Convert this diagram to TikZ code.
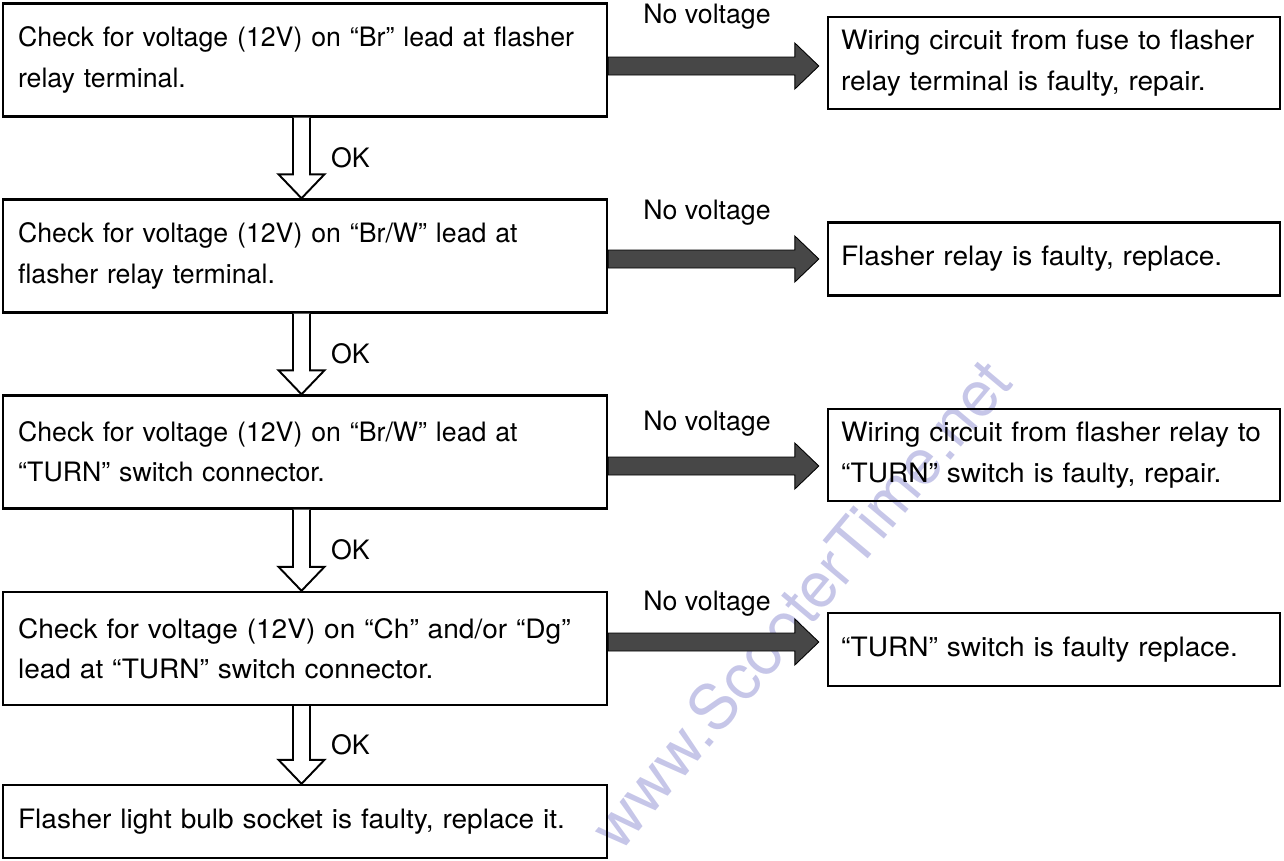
\documentclass[tikz,border=0pt]{standalone}
\usepackage{fontspec}
\setmainfont{TeX Gyre Heros}
\newfontfamily\roomyface{TeX Gyre Heros}[Ligatures=TeX, FakeStretch=1.05]
\newcommand{\boxsize}{\fontsize{15.2pt}{23pt}\selectfont}
\usetikzlibrary{positioning,calc}
\definecolor{wmblue}{RGB}{198,198,232}
\tikzset{
  checkbox/.style={draw, line width=1.4pt, align=left, text width=11.48cm, inner xsep=0.3cm, minimum height=2.26cm, font=\boxsize},
  faultbox/.style={draw, line width=1.4pt, align=left, text width=8.52cm, inner xsep=0.26cm, font=\roomyface\boxsize},
  novolt/.style={fill=black!72, draw=black, line width=0.5pt},
  okarrow/.style={draw, line width=1.1pt, fill=white, line join=miter},
  oklabel/.style={inner sep=0pt, font=\boxsize},
  nvlabel/.style={inner sep=0pt, font=\boxsize},
  watermark/.style={text=wmblue, font=\fontsize{36pt}{40pt}\selectfont, inner sep=0pt}
}
% hollow arrow between two check boxes
\newcommand{\okstep}[3]{%
  \coordinate (#3top) at (301.5,0 |- #1.south);
  \coordinate (#3tip) at (#3top |- #2.north);
  \draw[okarrow] ($(#3top)+(-8.5,0)$) -- ($(#3tip)+(-8.5,-24)$) -- ($(#3tip)+(-23,-24)$) -- (#3tip)
    -- ($(#3tip)+(23,-24)$) -- ($(#3tip)+(8.5,-24)$) -- ($(#3top)+(8.5,0)$);
  \node[oklabel] (#3) at ($(#3top)!0.5!(#3tip)+(49,0)$) {OK};
}
% shaded arrow to a fault box
\newcommand{\nostep}[5]{%
  \coordinate (#3s) at ($(#1.east)+(0,#4)$);
  \coordinate (#3w) at ($(#2.west)+(-8,0)$);
  \coordinate (#3tip) at (#3w |- #3s);
  \draw[novolt] ($(#3s)+(0,-9)$) -- ($(#3tip)+(-24,-9)$) -- ($(#3tip)+(-24,-23)$) -- (#3tip)
    -- ($(#3tip)+(-24,23)$) -- ($(#3tip)+(-24,9)$) -- ($(#3s)+(0,9)$) -- cycle;
  \node[nvlabel] (#3) at (707,#5) {No voltage};
}

\begin{document}
\begin{tikzpicture}[x=0.02cm, y=-0.02cm]
  \useasboundingbox (0,0) rectangle (1284,860);
  \node[watermark, rotate=50] (wm) at (800,604) {www.ScooterTime.net};

  % checks on the left
  \node[checkbox] (c1) at (305,60) {Check for voltage (12V) on ``Br'' lead at flasher\\relay terminal.};
  \node[checkbox] (c2) at (305,256) {Check for voltage (12V) on ``Br/W'' lead at\\flasher relay terminal.};
  \node[checkbox] (c3) at (305,452) {Check for voltage (12V) on ``Br/W'' lead at\\``TURN'' switch connector.};
  \node[checkbox, font=\roomyface\boxsize] (c4) at (305,648.5) {Check for voltage (12V) on ``Ch'' and/or ``Dg''\\lead at ``TURN'' switch connector.};
  \node[checkbox, minimum height=1.46cm, font=\roomyface\boxsize] (c5) at (305,821.5) {Flasher light bulb socket is faulty, replace it.};

  % faults on the right
  \node[faultbox, minimum height=1.84cm] (f1) at (1054,63) {Wiring circuit from fuse to flasher\\relay terminal is faulty, repair.};
  \node[faultbox, minimum height=1.46cm] (f2) at (1054,259) {Flasher relay is faulty, replace.};
  \node[faultbox, minimum height=1.84cm] (f3) at (1054,455) {Wiring circuit from flasher relay to\\``TURN'' switch is faulty, repair.};
  \node[faultbox, minimum height=1.46cm] (f4) at (1054,649.5) {``TURN'' switch is faulty replace.};

  \okstep{c1}{c2}{ok1}
  \okstep{c2}{c3}{ok2}
  \okstep{c3}{c4}{ok3}
  \okstep{c4}{c5}{ok4}

  \nostep{c1}{f1}{nv1}{6}{17}
  \nostep{c2}{f2}{nv2}{3}{213}
  \nostep{c3}{f3}{nv3}{14}{424}
  \nostep{c4}{f4}{nv4}{-6.5}{604}
\end{tikzpicture}
\end{document}
